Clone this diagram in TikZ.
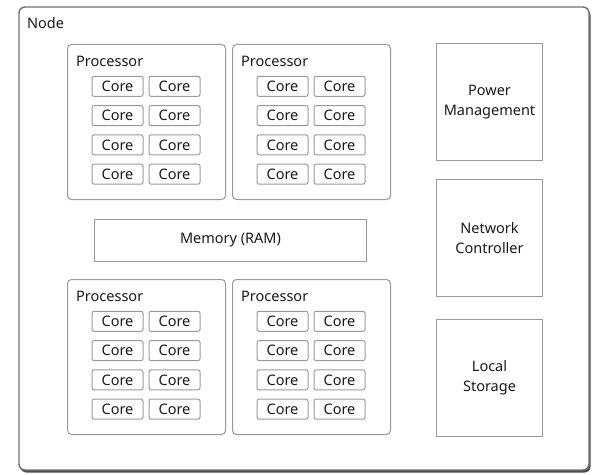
\documentclass[tikz,border=0pt]{standalone}
\usepackage{fontspec}
\setmainfont{Noto Sans}
\usetikzlibrary{calc}
\definecolor{edge}{HTML}{9A9A9A}
\definecolor{outeredge}{HTML}{707070}
\definecolor{ink}{HTML}{1A1A1A}
\tikzset{
  txt/.style={text=ink, font=\fontsize{14.5bp}{20bp}\selectfont, inner sep=0pt},
  outerbox/.style={draw=outeredge, line width=1.4bp, rounded corners=6bp, fill=white},
  procbox/.style={draw=edge, line width=1bp, rounded corners=4bp, fill=white,
    minimum width=158bp, minimum height=155bp, anchor=north west, inner sep=0pt},
  corebox/.style={txt, draw=edge, line width=1bp, rounded corners=2bp, fill=white,
    minimum width=51bp, minimum height=20bp},
  unitbox/.style={txt, draw=edge, line width=1bp, fill=white, align=center,
    minimum width=106bp, minimum height=117bp, anchor=north west},
}
\begin{document}
\begin{tikzpicture}[x=1bp,y=-1bp]
  \useasboundingbox (0,0) rectangle (592,475);
  % enclosing node with a soft drop shadow
  \fill[black!70, rounded corners=6bp] (20.5,9.5) rectangle (590.5,472.5);
  \draw[outerbox] (19,7) rectangle (589,470);
  \node[txt, anchor=west] (nodelabel) at (27,23) {Node};

  % four processors, each with eight cores
  \foreach \i/\px/\py in {1/67/44, 2/232/44, 3/67/279, 4/232/279} {
    \node[procbox] (proc\i) at (\px,\py) {};
    \node[txt, anchor=west] (proclabel\i) at ($(proc\i.north west)+(9,17)$) {Processor};
    \foreach \r in {1,...,4} {
      \foreach \c in {1,2} {
        \node[corebox] (core\i-\r-\c)
          at ($(proc\i.north west)+({50.5+57*(\c-1)},{42.3+29.3*(\r-1)})$) {Core};
      }
    }
  }

  % shared memory
  \node[txt, draw=edge, line width=1bp, fill=white, minimum width=272bp,
        minimum height=42bp, anchor=north west] (ram) at (94,219) {Memory (RAM)};

  % node-level units
  \node[unitbox] (power) at (436,43) {Power\\Management};
  \node[unitbox] (net) at (436,179) {Network\\Controller};
  \node[unitbox] (disk) at (436,319) {Local\\Storage};
\end{tikzpicture}
\end{document}
